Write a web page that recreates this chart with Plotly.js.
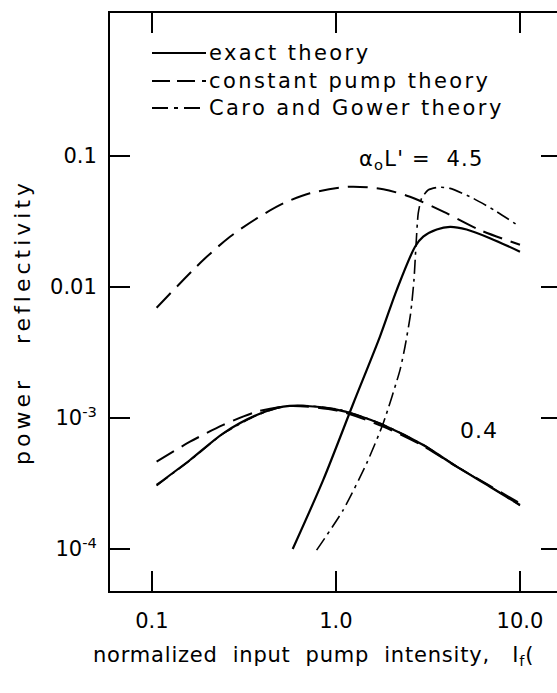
<!DOCTYPE html>
<html>
<head>
<meta charset="utf-8">
<script src="https://cdn.plot.ly/plotly-3.0.1.min.js"></script>
<style>
html, body { margin: 0; padding: 0; overflow: hidden; background: #fff; }
#chart { width: 563px; height: 693px; }
g.annotation[data-index="0"] text,
g.annotation[data-index="1"] text,
g.annotation[data-index="2"] text { letter-spacing: 2.4px; }
g.annotation[data-index="3"] text { letter-spacing: 1.2px; }
g.annotation[data-index="4"] text { letter-spacing: 1px; }
g.annotation[data-index="5"] text { letter-spacing: 0.8px; }
g.annotation[data-index="6"] text { letter-spacing: 4px; }
</style>
</head>
<body>
<div id="chart"></div>
<script>
// alpha0 L' = 4.5
const xExact45 = [0.582, 0.853, 1.242, 1.734, 2.138, 2.69, 2.98, 3.53, 4.17, 5.13, 6.87, 10];
const yExact45 = [1.0e-4, 3.37e-4, 1.29e-3, 4.18e-3, 9.48e-3, 0.0203, 0.0242, 0.0275, 0.0288, 0.0275, 0.0236, 0.0186];
const xConst45 = [0.106, 0.19, 0.2655, 0.371, 0.517, 0.722, 1.191, 1.807, 2.525, 3.83, 6.06, 10];
const yConst45 = [0.00695, 0.01607, 0.0242, 0.0334, 0.0435, 0.0519, 0.0583, 0.0557, 0.0489, 0.0376, 0.0272, 0.0210];
const xCaro45 = [0.785, 1.096, 1.468, 1.807, 2.228, 2.372, 2.546, 2.654, 2.72, 2.80, 2.92, 3.17, 3.60, 4.17, 5.57, 7.47, 10];
const yCaro45 = [0.98e-4, 1.99e-4, 4.51e-4, 9.12e-4, 2.32e-3, 3.50e-3, 6.30e-3, 0.0113, 0.0203, 0.0366, 0.0475, 0.0550, 0.0577, 0.0566, 0.0475, 0.0376, 0.0288];
// alpha0 L' = 0.4
const xExact04 = [0.106, 0.161, 0.244, 0.371, 0.517, 0.664, 1.009, 1.296, 1.807, 2.98, 4.53, 6.87, 10];
const yExact04 = [3.08e-4, 4.78e-4, 7.64e-4, 1.054e-3, 1.22e-3, 1.24e-3, 1.16e-3, 1.054e-3, 8.85e-4, 6.22e-4, 4.25e-4, 2.99e-4, 2.17e-4];
const xConst04 = [0.106, 0.161, 0.244, 0.371, 0.562, 1.009, 1.807, 2.98, 4.53, 6.87, 10];
const yConst04 = [4.64e-4, 6.59e-4, 8.85e-4, 1.117e-3, 1.235e-3, 1.14e-3, 8.59e-4, 6.11e-4, 4.25e-4, 3.03e-4, 2.23e-4];
const xCaro04 = [0.106, 0.161, 0.244, 0.371, 0.517, 0.664, 1.009, 1.296, 1.807, 2.98, 4.53, 6.87, 10];
const yCaro04 = [3.05e-4, 4.75e-4, 7.60e-4, 1.05e-3, 1.22e-3, 1.245e-3, 1.17e-3, 1.06e-3, 8.90e-4, 6.25e-4, 4.28e-4, 3.00e-4, 2.15e-4];

const xTickVals = [0.1, 1, 10];
const xTickText = ['0.1', '1.0', '10.0'];
const yTickVals = [1e-4, 1e-3, 1e-2, 0.1];
const yTickText = ['10<sup>-4</sup>', '10<sup>-3</sup>', '0.01', '0.1'];
const seriesNames = ['exact theory', 'constant pump theory', 'Caro and Gower theory'];

const SOLID = {color: '#000', width: 2.2, dash: 'solid', shape: 'spline', smoothing: 0.8};
const DASH = {color: '#000', width: 2, dash: '20px,9px', shape: 'spline', smoothing: 0.8};
const DASHDOT = {color: '#000', width: 1.6, dash: '14px,5px,3px,5px', shape: 'spline', smoothing: 0.6};

function tr(x, y, line, name) {
  return {x: x, y: y, type: 'scatter', mode: 'lines', line: line, name: name, showlegend: false, hoverinfo: 'skip'};
}

const data = [
  tr(xConst45, yConst45, DASH, seriesNames[1]),
  tr(xCaro45, yCaro45, DASHDOT, seriesNames[2]),
  tr(xExact45, yExact45, SOLID, seriesNames[0]),
  tr(xConst04, yConst04, DASH, seriesNames[1]),
  tr(xCaro04, yCaro04, DASHDOT, seriesNames[2]),
  tr(xExact04, yExact04, SOLID, seriesNames[0])
];

const F = 'DejaVu Sans, sans-serif';
const W = 451, H = 578, L = 110, B = 591;
const px = p => (p - L) / W;
const py = p => (B - p) / H;

const legendRows = [53, 81, 108];
const legendDash = ['solid', '18px,7px', '16px,6px,4px,6px'];
const shapes = legendRows.map((r, i) => ({
  type: 'line', xref: 'paper', yref: 'paper',
  x0: px(152), x1: px(206), y0: py(r), y1: py(r),
  line: {color: '#000', width: 2, dash: legendDash[i]}
}));
const annotations = legendRows.map((r, i) => ({
  xref: 'paper', yref: 'paper', x: px(207), y: py(r), xanchor: 'left', yanchor: 'middle', align: 'left',
  text: seriesNames[i], showarrow: false, font: {family: F, size: 21, color: '#000'}
}));
annotations.push(
  {xref: 'paper', yref: 'paper', x: px(357), y: py(160), xanchor: 'left', yanchor: 'middle', align: 'left',
   text: "α<sub>o</sub>L' =\u00a0\u00a04.5", showarrow: false, font: {family: F, size: 21, color: '#000'}},
  {xref: 'paper', yref: 'paper', x: px(458), y: py(430), xanchor: 'left', yanchor: 'middle', align: 'left',
   text: '0.4', showarrow: false, font: {family: F, size: 22, color: '#000'}},
  {xref: 'paper', yref: 'paper', x: px(91), y: py(656), xanchor: 'left', yanchor: 'middle', align: 'left',
   text: 'normalized\u00a0 input\u00a0 pump\u00a0 intensity,\u00a0\u00a0 I<sub>f</sub>(', showarrow: false,
   font: {family: F, size: 21, color: '#000'}},
  {xref: 'paper', yref: 'paper', x: px(22), y: py(322), xanchor: 'center', yanchor: 'middle', textangle: -90,
   text: 'power\u00a0\u00a0 reflectivity', showarrow: false, font: {family: F, size: 22, color: '#000'}}
);

const axisCommon = {
  showline: true, linecolor: '#000', linewidth: 2, mirror: 'ticks',
  ticks: 'inside', ticklen: 20, tickwidth: 2, tickcolor: '#000',
  showgrid: false, zeroline: false,
  tickfont: {family: F, size: 21, color: '#000'}
};

const layout = {
  width: 563, height: 693,
  margin: {l: 110, r: 2, t: 13, b: 102},
  paper_bgcolor: '#fff', plot_bgcolor: '#fff',
  showlegend: false,
  xaxis: Object.assign({}, axisCommon, {
    type: 'log', range: [-1.228, 1.223],
    tickmode: 'array', tickvals: xTickVals, ticktext: xTickText, ticklabelstandoff: 10
  }),
  yaxis: Object.assign({}, axisCommon, {
    type: 'log', range: [-4.3206, 0.0916],
    tickmode: 'array', tickvals: yTickVals, ticktext: yTickText, ticklabelstandoff: 7
  }),
  shapes: shapes,
  annotations: annotations
};

Plotly.newPlot('chart', data, layout, {staticPlot: true, displayModeBar: false});
</script>
</body>
</html>
